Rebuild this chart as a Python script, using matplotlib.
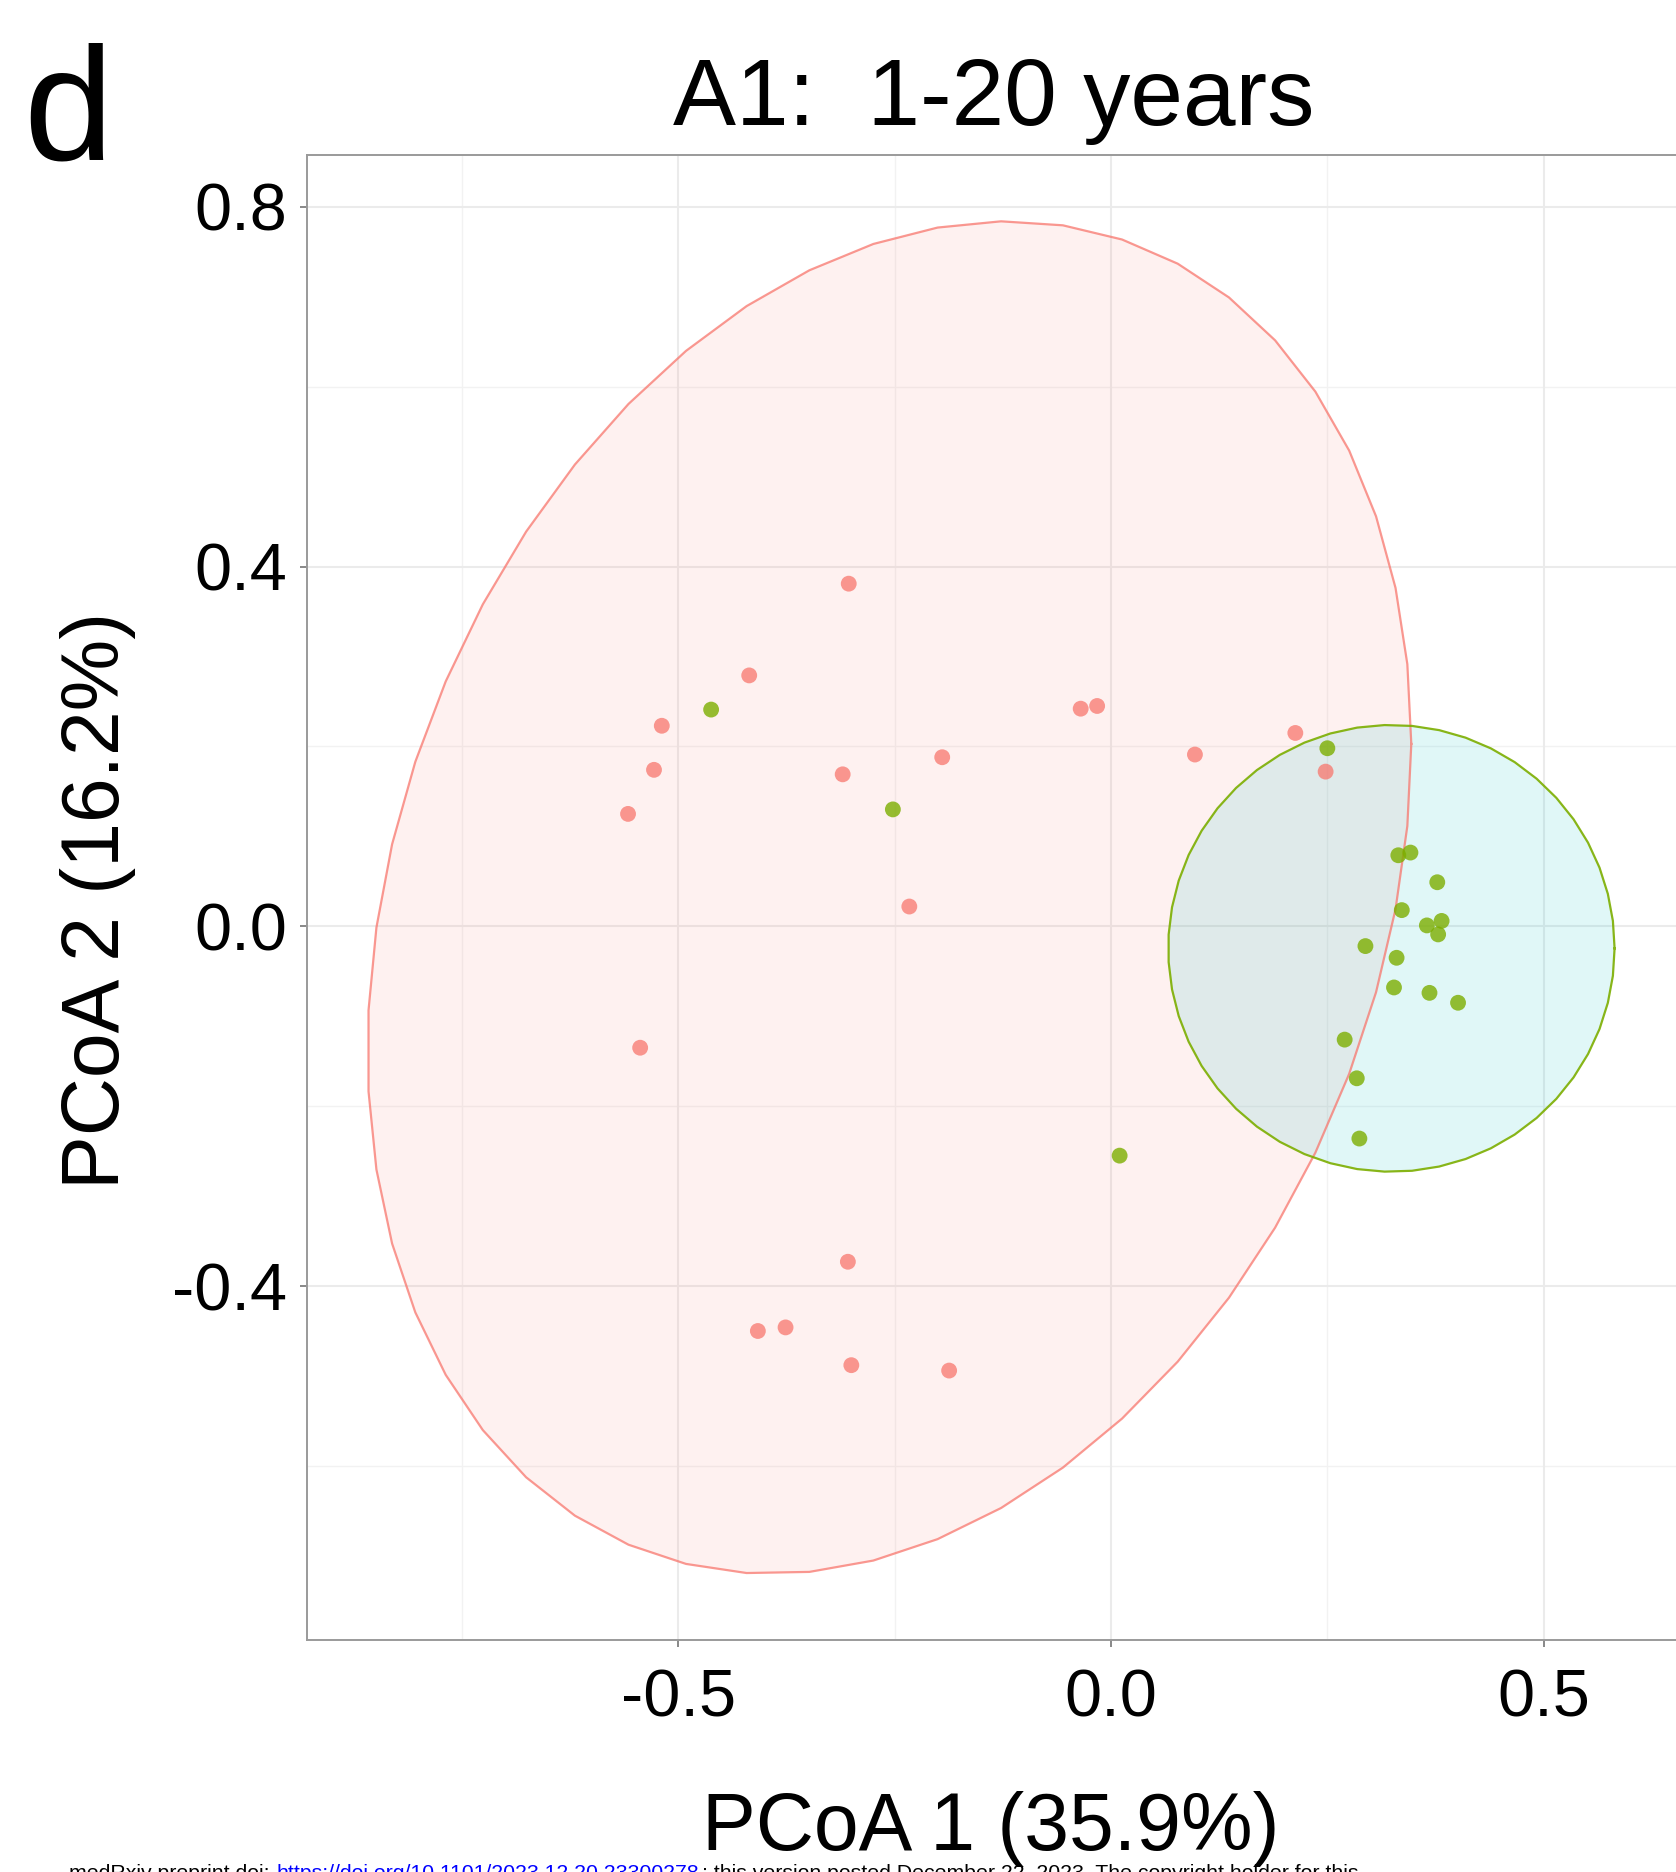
import numpy as np
import matplotlib
matplotlib.use("Agg")
import matplotlib.pyplot as plt

plt.rcParams['font.family'] = ['Liberation Sans', 'DejaVu Sans']
plt.rcParams['axes.unicode_minus'] = False

# PCoA coordinates, group 1 (salmon)
g1_x = [-0.303, -0.418, -0.519, -0.528, -0.558, -0.310, -0.195, -0.233,
        -0.035, -0.016, 0.097, 0.213, 0.248, -0.544, -0.304, -0.408,
        -0.376, -0.300, -0.187]
g1_y = [0.381, 0.279, 0.223, 0.174, 0.125, 0.169, 0.188, 0.022,
        0.242, 0.245, 0.191, 0.215, 0.172, -0.135, -0.373, -0.450,
        -0.446, -0.488, -0.494]

# PCoA coordinates, group 2 (green)
g2_x = [-0.462, -0.252, 0.250, 0.332, 0.346, 0.377, 0.336, 0.365,
        0.382, 0.378, 0.294, 0.330, 0.327, 0.368, 0.401, 0.270,
        0.284, 0.287, 0.010]
g2_y = [0.241, 0.130, 0.198, 0.079, 0.082, 0.049, 0.018, 0.001,
        0.006, -0.009, -0.022, -0.035, -0.068, -0.074, -0.085, -0.126,
        -0.169, -0.236, -0.255]

# 95% ellipse: centre and scaled shape matrix (var x, var y, cov xy)
ell1 = dict(cx=-0.256, cy=0.032, vxx=0.3636, vyy=0.5655, vxy=0.103)
ell2 = dict(cx=0.3240, cy=-0.0245, vxx=0.0665, vyy=0.0617, vxy=0.0)

x_ticks = [-0.5, 0.0, 0.5]
y_ticks = [-0.4, 0.0, 0.4, 0.8]
x_minor = [-0.75, -0.25, 0.25]
y_minor = [-0.6, -0.2, 0.2, 0.6]

RED = '#F8766D'
GREEN = '#7CAE00'
CYAN = '#00BFC4'


def ellipse_xy(cx, cy, vxx, vyy, vxy, segments=51):
    # same construction as ggplot's stat_ellipse (unit circle times chol)
    t = np.linspace(0, 2 * np.pi, segments + 1)
    r11 = np.sqrt(vxx)
    r12 = vxy / r11
    r22 = np.sqrt(vyy - r12 ** 2)
    return cx + r11 * np.cos(t), cy + r12 * np.cos(t) + r22 * np.sin(t)


fig = plt.figure(figsize=(16.76, 18.72), dpi=100)
ax = fig.add_axes([0.18317, 0.12393, 0.8192, 0.79316])

# grid
for v in x_minor:
    ax.axvline(v, color='#F2F2F2', lw=1.0, zorder=0)
for v in y_minor:
    ax.axhline(v, color='#F2F2F2', lw=1.0, zorder=0)
for v in x_ticks:
    ax.axvline(v, color='#EBEBEB', lw=1.5, zorder=0)
for v in y_ticks:
    ax.axhline(v, color='#EBEBEB', lw=1.5, zorder=0)

# ellipses
ex, ey = ellipse_xy(**ell1)
ax.fill(ex, ey, facecolor=RED, alpha=0.1, edgecolor='none', zorder=1)
ax.plot(ex, ey, color=RED, alpha=0.75, lw=1.6, zorder=2)

ex, ey = ellipse_xy(**ell2)
ax.fill(ex, ey, facecolor=CYAN, alpha=0.12, edgecolor='none', zorder=1)
ax.plot(ex, ey, color=GREEN, alpha=0.9, lw=1.6, zorder=2)

# points
ax.scatter(g1_x, g1_y, s=130, color=RED, alpha=0.75, edgecolors='none', zorder=3)
ax.scatter(g2_x, g2_y, s=130, color=GREEN, alpha=0.8, edgecolors='none', zorder=3)

ax.set_xlim(-0.92894, 0.65742)
ax.set_ylim(-0.7936, 0.85744)
ax.set_xticks(x_ticks)
ax.set_yticks(y_ticks)
ax.set_xticklabels(['-0.5', '0.0', '0.5'])
ax.set_yticklabels(['-0.4', '0.0', '0.4', '0.8'])
ax.tick_params(axis='both', length=5, width=1.4, color='#888888',
               labelsize=48, labelcolor='black')
ax.tick_params(axis='x', pad=15.6)
ax.tick_params(axis='y', pad=9.5)

for sp in ax.spines.values():
    sp.set_color('#9A9A9A')
    sp.set_linewidth(1.4)

ax.set_title('A1:  1-20 years', fontsize=68, pad=22)

ax.set_xlabel('PCoA 1 (35.9%)', fontsize=58)
ax.xaxis.label.set_va('baseline')
ax.xaxis.set_label_coords(990.5 / 1676, 22 / 1872, transform=fig.transFigure)

ax.set_ylabel('PCoA 2 (16.2%)', fontsize=58)
ax.yaxis.label.set_va('baseline')
ax.yaxis.set_label_coords(119 / 1676, (1872 - 900) / 1872, transform=fig.transFigure)

fig.text(23 / 1676, (1872 - 159.3) / 1872, 'd', fontsize=116, va='baseline', ha='left')

# preprint footer along the bottom edge
fy = (1872 - 1879) / 1872
fig.text(69 / 1676, fy, 'medRxiv preprint doi: ', fontsize=15.3, va='baseline')
fig.text(276 / 1676, fy, 'https://doi.org/10.1101/2023.12.20.23300278', fontsize=15.3,
         va='baseline', color='#0000FF')
fig.text(702 / 1676, fy, '; this version posted December 22, 2023. The copyright holder for this',
         fontsize=15.3, va='baseline')

fig.savefig('out.png', dpi=100)
